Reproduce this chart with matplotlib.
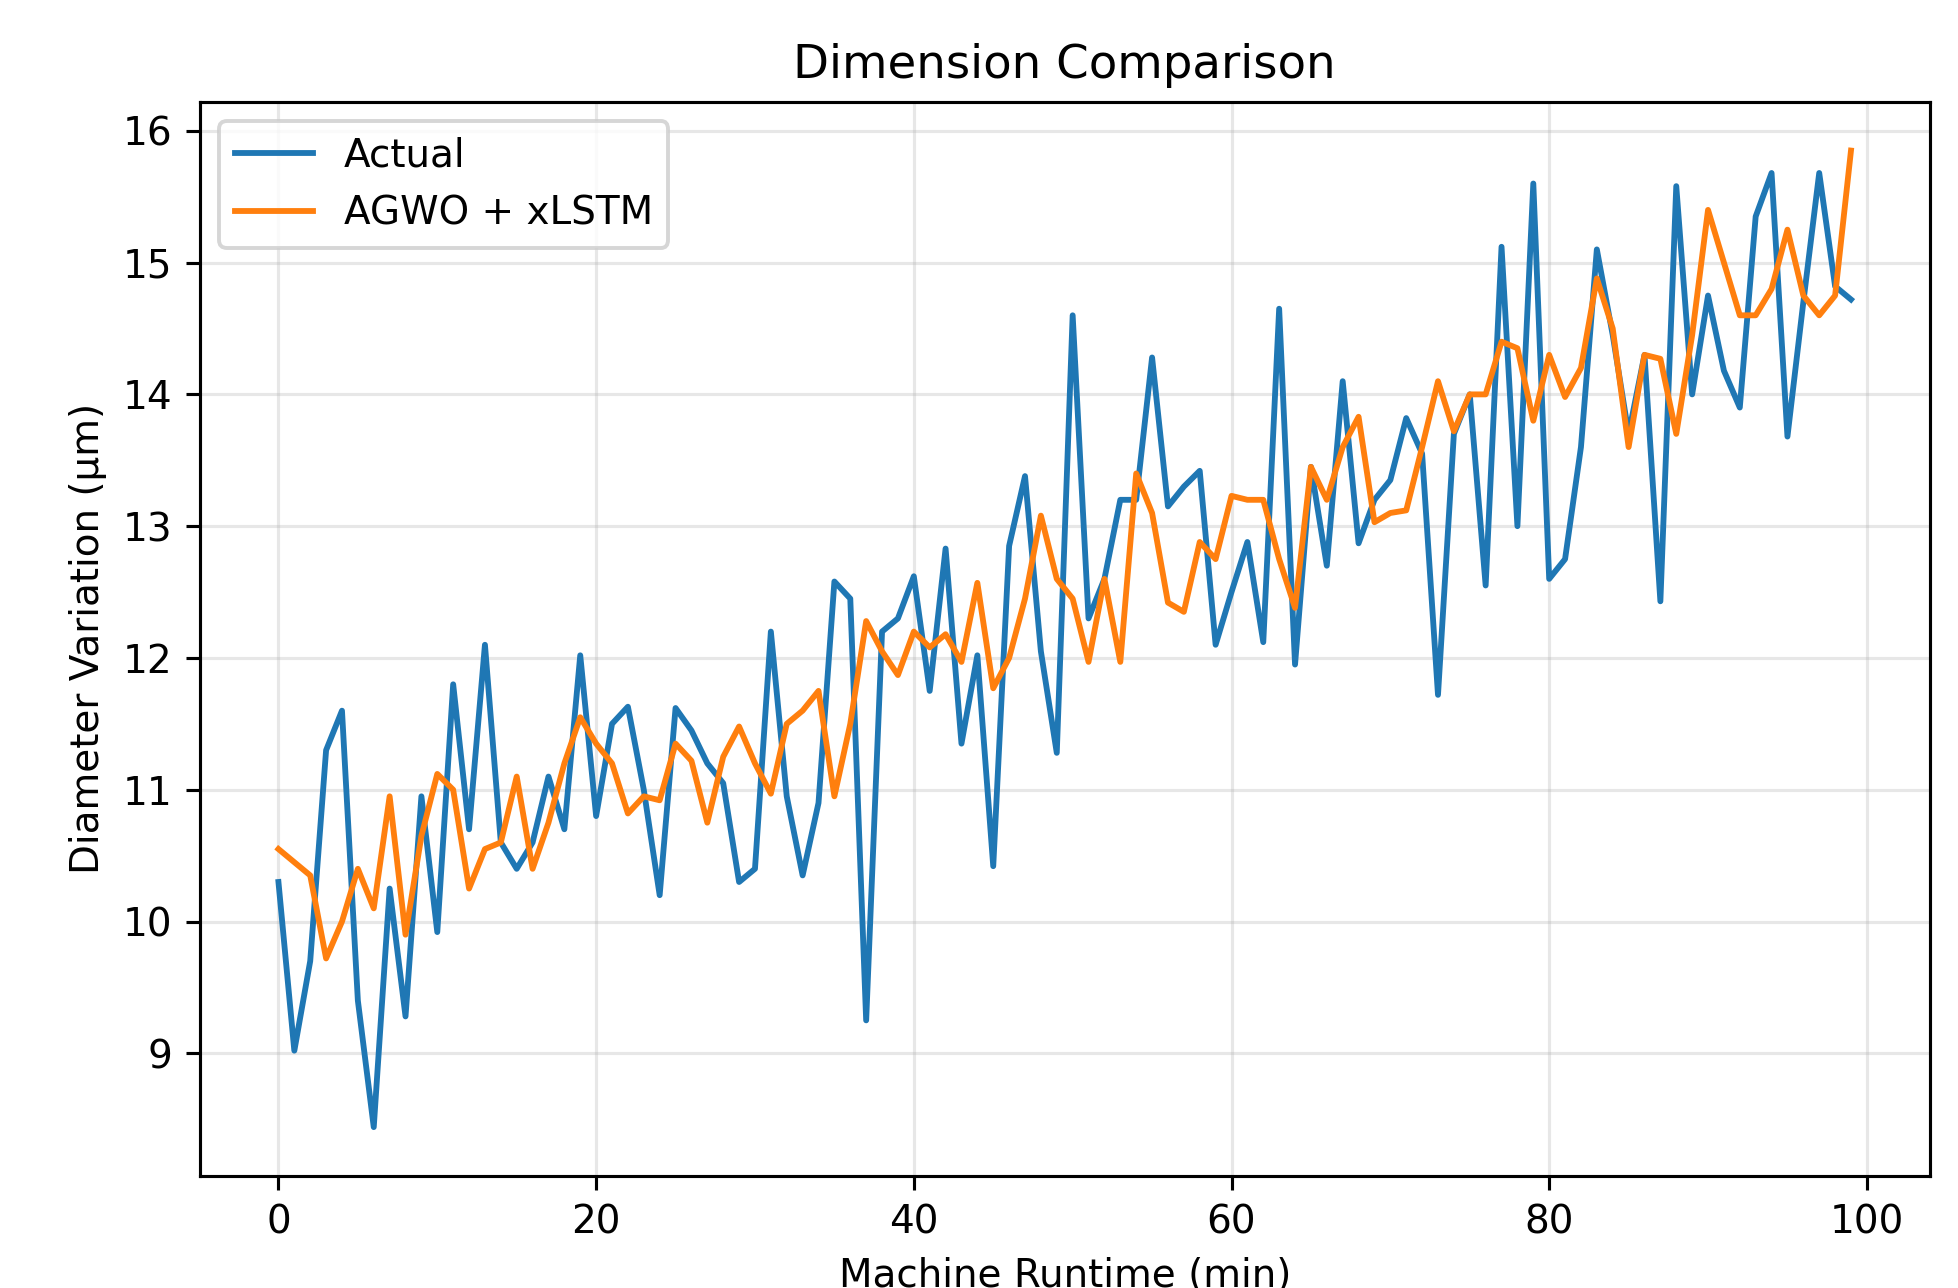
import matplotlib
matplotlib.use("Agg")
import matplotlib.pyplot as plt

runtime = list(range(100))

actual = [10.3, 9.02, 9.7, 11.3, 11.6, 9.4, 8.44, 10.25, 9.28, 10.95,
          9.92, 11.8, 10.7, 12.1, 10.6, 10.4, 10.6, 11.1, 10.7, 12.02,
          10.8, 11.5, 11.63, 11.0, 10.2, 11.62, 11.45, 11.2, 11.05, 10.3,
          10.4, 12.2, 10.95, 10.35, 10.9, 12.58, 12.45, 9.25, 12.2, 12.3,
          12.62, 11.75, 12.83, 11.35, 12.02, 10.42, 12.85, 13.38, 12.05, 11.28,
          14.6, 12.3, 12.6, 13.2, 13.2, 14.28, 13.15, 13.3, 13.42, 12.1,
          12.5, 12.88, 12.12, 14.65, 11.95, 13.45, 12.7, 14.1, 12.87, 13.2,
          13.35, 13.82, 13.55, 11.72, 13.7, 14.0, 12.55, 15.12, 13.0, 15.6,
          12.6, 12.75, 13.6, 15.1, 14.45, 13.7, 14.3, 12.43, 15.58, 14.0,
          14.75, 14.18, 13.9, 15.35, 15.68, 13.68, 14.7, 15.68, 14.82, 14.72]

predicted = [10.55, 10.45, 10.35, 9.72, 10.0, 10.4, 10.1, 10.95, 9.9, 10.65,
             11.12, 11.0, 10.25, 10.55, 10.6, 11.1, 10.4, 10.75, 11.2, 11.55,
             11.35, 11.2, 10.82, 10.95, 10.92, 11.35, 11.22, 10.75, 11.25, 11.48,
             11.2, 10.97, 11.5, 11.6, 11.75, 10.95, 11.5, 12.28, 12.05, 11.87,
             12.2, 12.08, 12.18, 11.97, 12.57, 11.77, 12.0, 12.45, 13.08, 12.6,
             12.45, 11.97, 12.6, 11.97, 13.4, 13.1, 12.42, 12.35, 12.88, 12.75,
             13.23, 13.2, 13.2, 12.75, 12.38, 13.45, 13.2, 13.6, 13.83, 13.03,
             13.1, 13.12, 13.6, 14.1, 13.72, 14.0, 14.0, 14.4, 14.35, 13.8,
             14.3, 13.98, 14.2, 14.88, 14.5, 13.6, 14.3, 14.27, 13.7, 14.45,
             15.4, 15.0, 14.6, 14.6, 14.8, 15.25, 14.75, 14.6, 14.75, 15.85]

fig = plt.figure(figsize=(1959 / 280, 1288 / 280), dpi=280)
ax = fig.add_axes([0.102, 0.087, 0.883, 0.834])
ax.plot(runtime, actual, label="Actual", lw=1.5)
ax.plot(runtime, predicted, label="AGWO + xLSTM", lw=1.5)
ax.set_title("Dimension Comparison")
ax.set_xlabel("Machine Runtime (min)")
ax.set_ylabel("Diameter Variation (µm)")
ax.grid(True, alpha=0.3)
ax.legend(loc="upper left")
fig.savefig("out.png", dpi=280)
